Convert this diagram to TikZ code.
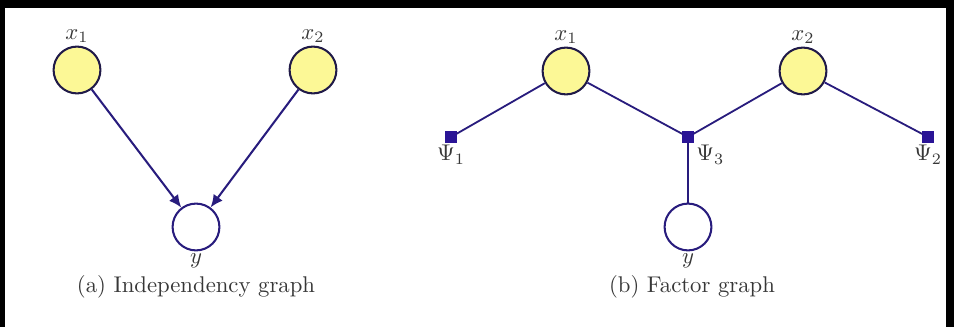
\documentclass[tikz,border=0pt]{standalone}
\usepackage{amsmath}
\usepackage{tikz}
\usetikzlibrary{
  arrows.meta,
  positioning
}
\definecolor{NodeYellow}{RGB}{252,248,150}
\definecolor{EdgeNavy}{RGB}{40,28,125}
\definecolor{RimNavy}{RGB}{32,26,72}
\definecolor{FactorBlue}{RGB}{42,20,150}
\definecolor{ScanText}{RGB}{55,55,55}
\tikzset{
  obsnode/.style={circle,draw=RimNavy,fill=NodeYellow,line width=0.9pt,minimum size=20.6pt,inner sep=0pt},
  hidnode/.style={circle,draw=EdgeNavy,fill=white,line width=0.9pt,minimum size=20.6pt,inner sep=0pt},
  factornode/.style={rectangle,draw=FactorBlue,fill=FactorBlue,minimum size=4.6pt,inner sep=0pt},
  deparrow/.style={-{Latex[length=5.5pt,width=5pt]},line width=0.9pt,draw=EdgeNavy},
  factoredge/.style={line width=0.8pt,draw=EdgeNavy},
  varlabel/.style={inner sep=1pt,text=ScanText},
  subcaption/.style={inner sep=0pt,text=ScanText}
}

\begin{document}
\begin{tikzpicture}[x=0.44pt,y=-0.44pt]
\useasboundingbox (0,0) rectangle (954,327);
% frame of the scan
\fill[black] (0,0) rectangle (954,8);
\fill[black] (0,0) rectangle (5,327);
\fill[black] (946,0) rectangle (954,327);

% (a) independency graph
\node[obsnode] (ax1) at (77,70) {};
\node[obsnode] (ax2) at (313,70) {};
\node[hidnode] (ay) at (196,227) {};
\node[varlabel, above=0pt of ax1] (ax1lab) {$x_1$};
\node[varlabel, above=0pt of ax2] (ax2lab) {$x_2$};
\node[varlabel, below=0pt of ay] (aylab) {$y$};

\draw[deparrow] (ax1) -- (ay);
\draw[deparrow] (ax2) -- (ay);

\node[subcaption] (capa) at (196,287) {(a) Independency graph};

% (b) factor graph
\node[obsnode] (bx1) at (566,71) {};
\node[obsnode] (bx2) at (803,71) {};
\node[hidnode] (by) at (688,227) {};
\node[factornode] (psi1) at (451,137) {};
\node[factornode] (psi3) at (688,137) {};
\node[factornode] (psi2) at (928,137) {};
\node[varlabel, above=0pt of bx1] (bx1lab) {$x_1$};
\node[varlabel, above=0pt of bx2] (bx2lab) {$x_2$};
\node[varlabel, below=0pt of by] (bylab) {$y$};
\node[varlabel, below=0pt of psi1] (psi1lab) {$\Psi_1$};
\node[varlabel, below right=0pt and 0pt of psi3] (psi3lab) {$\Psi_3$};
\node[varlabel, below=0pt of psi2] (psi2lab) {$\Psi_2$};

\draw[factoredge] (bx1) -- (psi1);
\draw[factoredge] (bx1) -- (psi3);
\draw[factoredge] (bx2) -- (psi3);
\draw[factoredge] (bx2) -- (psi2);
\draw[factoredge] (psi3) -- (by);

\node[subcaption] (capb) at (692,287) {(b) Factor graph};
\end{tikzpicture}
\end{document}
